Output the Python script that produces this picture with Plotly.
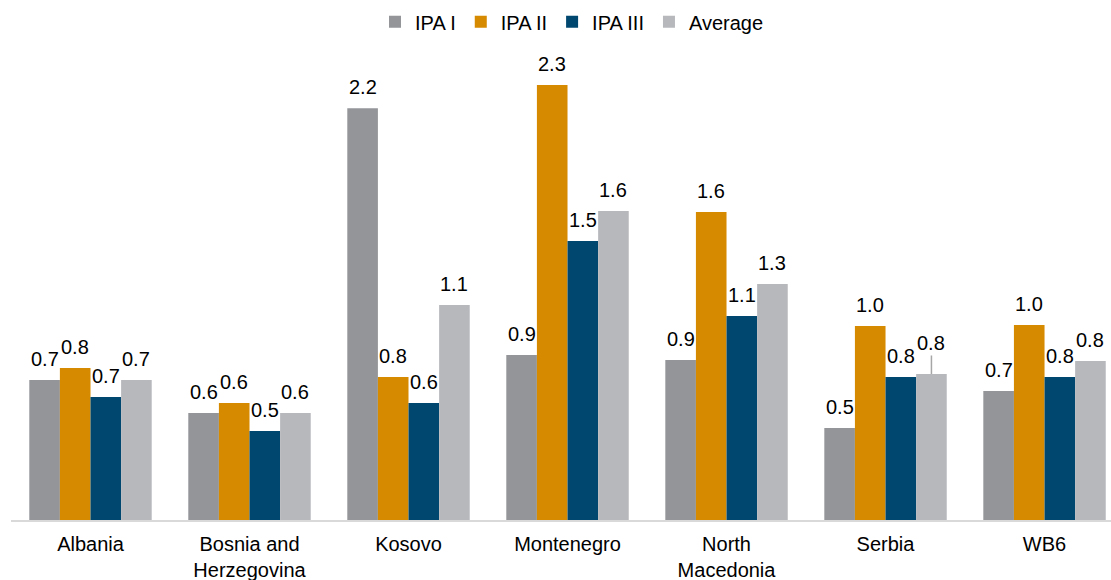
import plotly.graph_objects as go

# Categories and series values
countries = ["Albania", "Bosnia and<br>Herzegovina", "Kosovo", "Montenegro",
             "North<br>Macedonia", "Serbia", "WB6"]
ipa_1 = [0.745, 0.569, 2.19, 0.878, 0.851, 0.489, 0.686]
ipa_2 = [0.809, 0.622, 0.761, 2.314, 1.638, 1.032, 1.037]
ipa_3 = [0.654, 0.473, 0.622, 1.484, 1.085, 0.761, 0.76]
average = [0.745, 0.569, 1.144, 1.644, 1.255, 0.777, 0.846]

series = [
    ("IPA I", ipa_1, "#939598"),
    ("IPA II", ipa_2, "#D68A00"),
    ("IPA III", ipa_3, "#00476F"),
    ("Average", average, "#B7B8BC"),
]

FONT = "Liberation Sans, Arial, sans-serif"
FSIZE = 20
BARGAP = 0.23
n_series = len(series)
bar_w = (1 - BARGAP) / n_series

fig = go.Figure()
annotations = []
for k, (name, vals, color) in enumerate(series):
    fig.add_trace(go.Bar(
        name=name, x=countries, y=vals,
        marker=dict(color=color, line=dict(width=0)),
        hoverinfo="x+y+name",
    ))
    offset = (k - (n_series - 1) / 2) * bar_w
    for i, v in enumerate(vals):
        label = f"{v:.1f}"
        common = dict(x=i + offset, y=v, xref="x", yref="y", text=label,
                      font=dict(family=FONT, size=FSIZE, color="#000000"))
        if name == "Average" and countries[i] == "Serbia":
            # label lifted above the bar with a short leader line
            annotations.append(dict(**common, showarrow=True, ax=0, ay=-31,
                                    arrowhead=0, arrowwidth=1.5,
                                    arrowcolor="#A6A6A6", standoff=0))
        else:
            annotations.append(dict(**common, showarrow=False,
                                    yanchor="bottom", yshift=8))

fig.update_layout(
    width=1111, height=580,
    margin=dict(l=11, r=0, t=60, b=60, autoexpand=False),
    paper_bgcolor="white", plot_bgcolor="white",
    barmode="group", bargap=BARGAP, bargroupgap=0,
    font=dict(family=FONT, size=FSIZE, color="#000000"),
    showlegend=True,
    legend=dict(orientation="h", x=0.51, xanchor="center", y=1.083,
                yanchor="middle", font=dict(family=FONT, size=FSIZE),
                itemwidth=30, traceorder="normal"),
    annotations=annotations,
    xaxis=dict(range=[-0.5, 6.418], showline=True, linecolor="#D9D9D9",
               linewidth=2, showgrid=False, zeroline=False, automargin=False,
               ticks="outside", ticklen=5, tickcolor="rgba(0,0,0,0)",
               tickfont=dict(family=FONT, size=FSIZE, color="#000000")),
    yaxis=dict(range=[0, 2.4468], visible=False, showgrid=False,
               zeroline=False),
)

fig.write_html("out.html")
